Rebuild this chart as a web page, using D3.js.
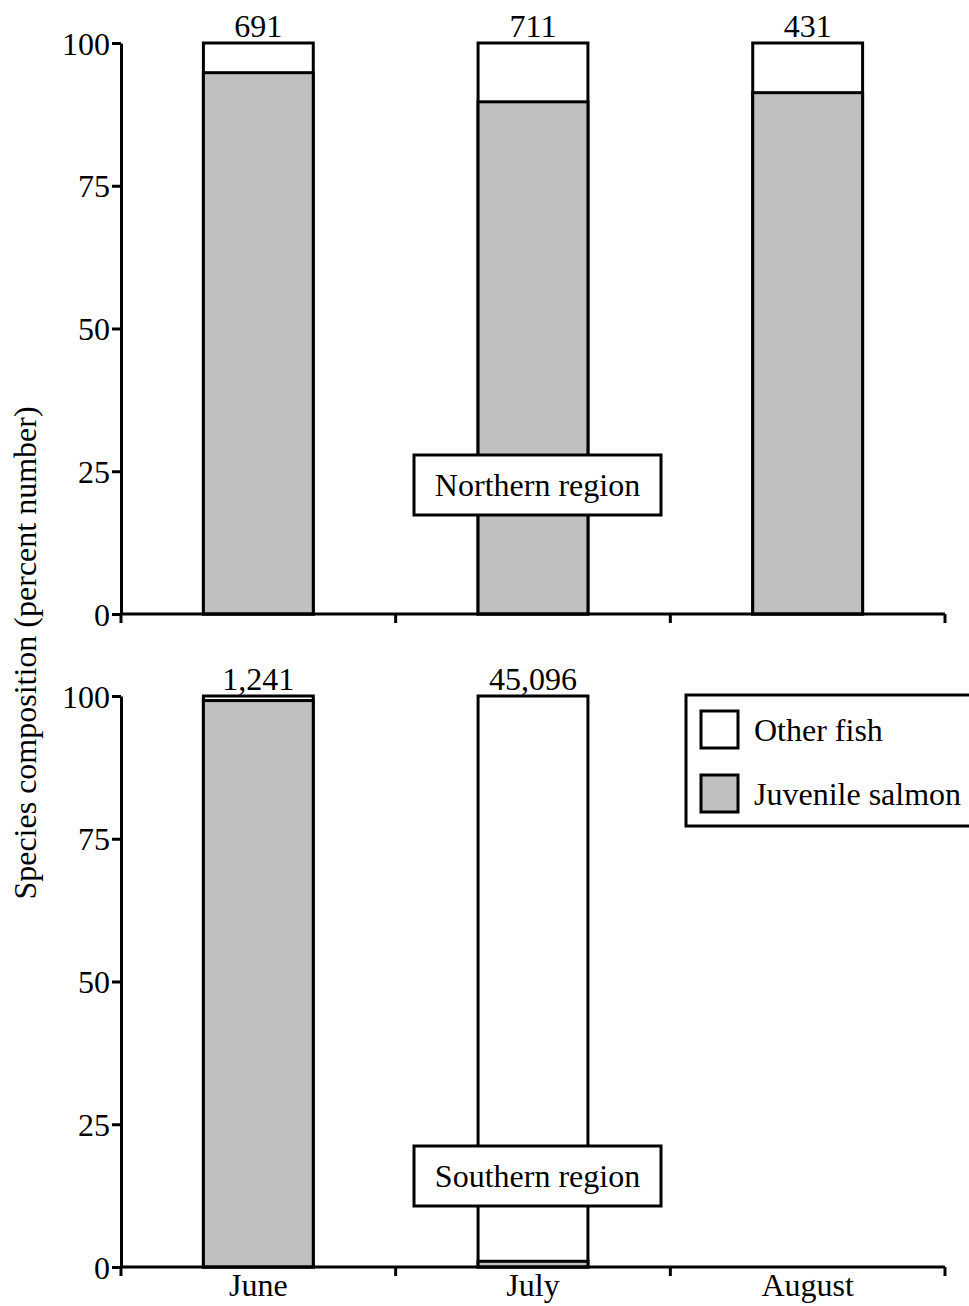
<!DOCTYPE html>
<html>
<head>
<meta charset="utf-8">
<script src="https://cdn.jsdelivr.net/npm/d3@7"></script>
<style>
  body { margin: 0; background: #fff; }
  svg text { font-family: 'Liberation Serif', 'Times New Roman', serif !important; fill: #000; }
</style>
</head>
<body>
<div id="chart"></div>
<script>
// data
let months = ['June', 'July', 'August']
let northSalmon = [94.8, 89.7, 91.3]
let northCounts = ['691', '711', '431']
let southSalmon = [99.2, 1.0, null]
let southCounts = ['1,241', '45,096', null]
let yTicks = [0, 25, 50, 75, 100]
let panelNames = ['Northern region', 'Southern region']
let legendLabels = ['Other fish', 'Juvenile salmon']
let legendColors = ['#ffffff', '#c0c0c0']

let width = 969
let height = 1306
let fontSize = 32

let svg = d3.select('#chart')
  .append('svg')
  .attr('width', width)
  .attr('height', height)

let x = d3.scaleBand()
  .domain(months)
  .range([121, 945])
  .paddingInner(0.6)
  .paddingOuter(0.3)

let panels = [
  { salmon: northSalmon, counts: northCounts, name: panelNames[0], top: 43, bottom: 614, boxY: 455 },
  { salmon: southSalmon, counts: southCounts, name: panelNames[1], top: 696, bottom: 1267, boxY: 1146 }
]

panels.forEach(function (p, pi) {
  let y = d3.scaleLinear().domain([0, 100]).range([p.bottom, p.top])
  let g = svg.append('g')

  let rows = months.map(function (m, i) {
    return { month: m, salmon: p.salmon[i], count: p.counts[i] }
  }).filter(function (d) { return d.salmon !== null })

  // other fish (full bar, white)
  g.selectAll('rect.other')
    .data(rows)
    .enter()
    .append('rect')
    .attr('class', 'other')
    .attr('x', function (d) { return x(d.month) })
    .attr('y', y(100))
    .attr('width', x.bandwidth())
    .attr('height', y(0) - y(100))
    .attr('fill', legendColors[0])
    .attr('stroke', '#000')
    .attr('stroke-width', 3)

  // juvenile salmon (grey)
  g.selectAll('rect.salmon')
    .data(rows)
    .enter()
    .append('rect')
    .attr('class', 'salmon')
    .attr('x', function (d) { return x(d.month) })
    .attr('y', function (d) { return y(d.salmon) })
    .attr('width', x.bandwidth())
    .attr('height', function (d) { return y(0) - y(d.salmon) })
    .attr('fill', legendColors[1])
    .attr('stroke', '#000')
    .attr('stroke-width', 3)

  // count labels
  g.selectAll('text.count')
    .data(rows)
    .enter()
    .append('text')
    .attr('class', 'count')
    .attr('x', function (d) { return x(d.month) + x.bandwidth() / 2 })
    .attr('y', y(100) - 6)
    .attr('text-anchor', 'middle')
    .style('font-size', fontSize + 'px')
    .text(function (d) { return d.count })

  // y axis
  let yAxis = g.append('g')
    .attr('transform', 'translate(121,0)')
    .call(d3.axisLeft(y).tickValues(yTicks).tickSize(9).tickSizeOuter(0).tickPadding(2))
  yAxis.select('.domain').attr('stroke-width', 3)
  yAxis.selectAll('.tick line').attr('stroke-width', 3)
  yAxis.selectAll('.tick text')
    .style('font-size', fontSize + 'px')
    .attr('dy', '0.35em')

  // x axis with ticks at band boundaries
  let bounds = [121].concat(months.map(function (m) {
    return x(m) + x.bandwidth() + x.step() * x.paddingInner() / 2
  }))
  bounds[bounds.length - 1] = 945
  g.append('line')
    .attr('x1', 121).attr('x2', 945)
    .attr('y1', y(0)).attr('y2', y(0))
    .attr('stroke', '#000').attr('stroke-width', 3)
  g.selectAll('line.xtick')
    .data(bounds)
    .enter()
    .append('line')
    .attr('class', 'xtick')
    .attr('x1', function (d) { return d }).attr('x2', function (d) { return d })
    .attr('y1', y(0)).attr('y2', y(0) + 9)
    .attr('stroke', '#000').attr('stroke-width', 3)

  if (pi === 1) {
    g.selectAll('text.month')
      .data(months)
      .enter()
      .append('text')
      .attr('class', 'month')
      .attr('x', function (m) { return x(m) + x.bandwidth() / 2 })
      .attr('y', y(0) + 29)
      .attr('text-anchor', 'middle')
      .style('font-size', fontSize + 'px')
      .text(function (m) { return m })
  }

  // region label box
  let boxX = 414
  let boxW = 247
  let boxH = 60
  g.append('rect')
    .attr('x', boxX).attr('y', p.boxY)
    .attr('width', boxW).attr('height', boxH)
    .attr('fill', '#fff').attr('stroke', '#000').attr('stroke-width', 3)
  g.append('text')
    .attr('x', boxX + boxW / 2)
    .attr('y', p.boxY + boxH / 2)
    .attr('dy', '0.35em')
    .attr('text-anchor', 'middle')
    .style('font-size', fontSize + 'px')
    .text(p.name)
})

// legend
let legend = svg.append('g')
legend.append('rect')
  .attr('x', 686).attr('y', 695)
  .attr('width', 300).attr('height', 131)
  .attr('fill', '#fff').attr('stroke', '#000').attr('stroke-width', 3)
let legItems = legend.selectAll('g.item')
  .data(legendLabels)
  .enter()
  .append('g')
  .attr('class', 'item')
  .attr('transform', function (d, i) { return 'translate(701,' + (711 + i * 64) + ')' })
legItems.append('rect')
  .attr('width', 37).attr('height', 37)
  .attr('fill', function (d, i) { return legendColors[i] })
  .attr('stroke', '#000').attr('stroke-width', 3)
legItems.append('text')
  .attr('x', 53).attr('y', 19)
  .attr('dy', '0.35em')
  .style('font-size', fontSize + 'px')
  .text(function (d) { return d })

// y axis title
svg.append('text')
  .attr('transform', 'translate(36,653) rotate(-90)')
  .attr('text-anchor', 'middle')
  .style('font-size', fontSize + 'px')
  .text('Species composition (percent number)')
</script>
</body>
</html>
